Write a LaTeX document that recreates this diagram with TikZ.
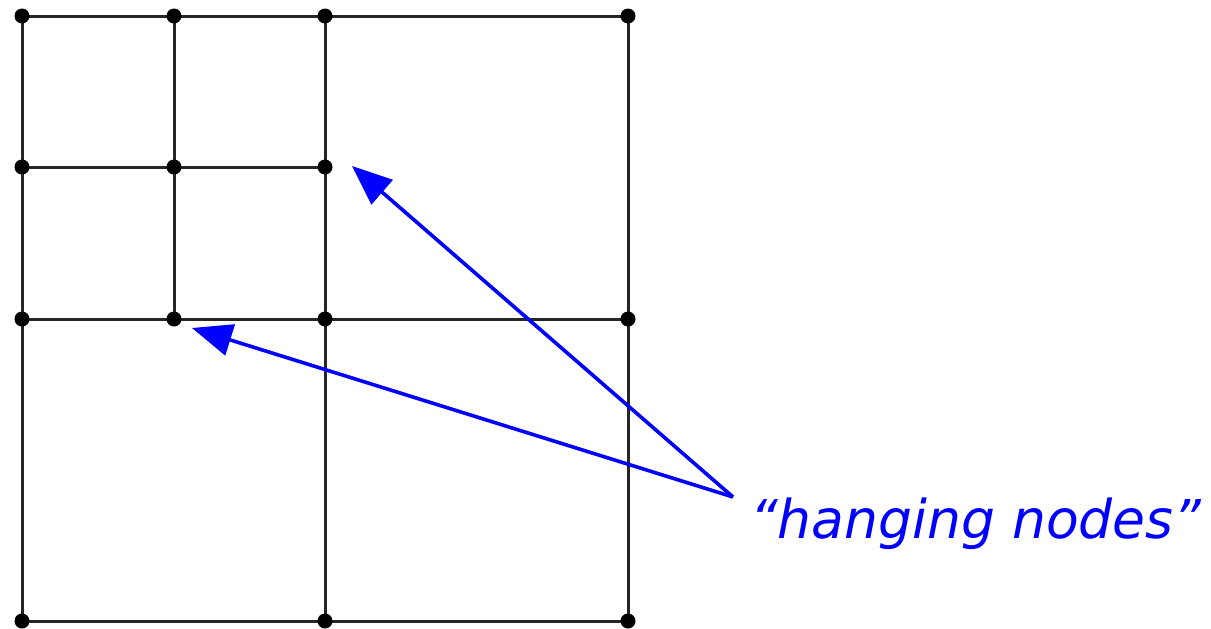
\documentclass[tikz,border=0pt]{standalone}
\usepackage{fontspec}
\newfontfamily\dejavu{DejaVu Sans}
\usetikzlibrary{arrows.meta}
\definecolor{pointer}{RGB}{0,0,255}
\begin{document}
\begin{tikzpicture}[x=1pt,y=-1pt,
  gridline/.style={line width=3pt,black!85},
  vertex/.style={circle,fill=black,inner sep=0pt,minimum size=15pt},
  pointerarrow/.style={line width=3.6pt,pointer,-{Triangle[length=40pt,width=32pt]}}]
\useasboundingbox (0,0) rectangle (1211,629);
% grid
\draw[gridline] (22,16) rectangle (628,621);
\draw[gridline] (325,16) -- (325,621);
\draw[gridline] (174,16) -- (174,319);
\draw[gridline] (22,167) -- (325,167);
\draw[gridline] (22,319) -- (628,319);
% vertices
\foreach \n/\x/\y in {a/22/16,b/174/16,c/325/16,d/628/16,
  e/22/167,f/174/167,g/325/167,
  h/22/319,i/174/319,j/325/319,k/628/319,
  l/22/621,m/325/621,o/628/621}
  \node[vertex] (\n) at (\x,\y) {};
% label
\node[anchor=base west,inner sep=0pt,text=pointer,font=\dejavu\itshape\fontsize{53.5}{60}\selectfont] (lbl) at (750,538) {“hanging nodes”};
\coordinate (src) at (733,497);
\coordinate (t1) at (352,166);
\coordinate (t2) at (192,328);
\draw[pointerarrow] (src) -- (t1);
\draw[pointerarrow] (src) -- (t2);
\end{tikzpicture}
\end{document}
